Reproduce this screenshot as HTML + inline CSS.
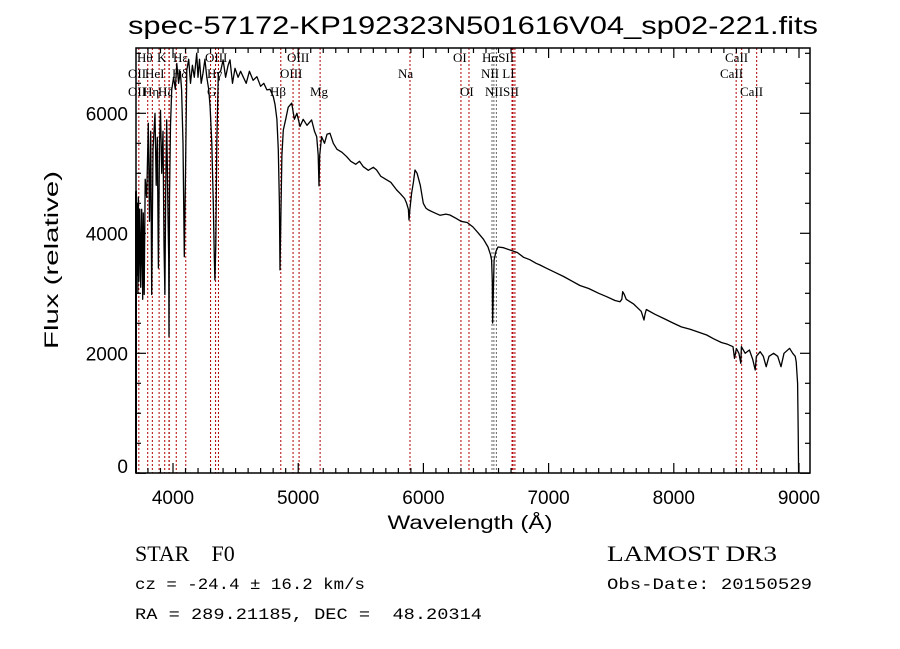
<!DOCTYPE html>
<html><head><meta charset="utf-8"><style>
html,body{margin:0;padding:0;background:#fff;}
svg{display:block;}
text{font-family:"Liberation Sans",sans-serif;fill:#000;}
.lab{font-family:"Liberation Serif",serif;font-size:13px;}
</style></head><body>
<svg id="chart" width="900" height="649" viewBox="0 0 900 649" xmlns="http://www.w3.org/2000/svg">
<text x="128" y="34" font-size="25" textLength="690" lengthAdjust="spacingAndGlyphs">spec-57172-KP192323N501616V04_sp02-221.fits</text>
<g id="lines"></g>
<g id="labels"></g>
<polyline id="spec" fill="none" stroke="#000" stroke-width="1.3" stroke-linejoin="round"></polyline>
<g id="axes"></g>
<text x="470" y="529" font-size="19" text-anchor="middle" textLength="165" lengthAdjust="spacingAndGlyphs">Wavelength (Å)</text>
<text transform="translate(58,260) rotate(-90)" font-size="19" text-anchor="middle" textLength="178" lengthAdjust="spacingAndGlyphs">Flux (relative)</text>
<text x="135" y="561" font-size="22" style="font-family:'Liberation Serif',serif" xml:space="preserve">STAR    F0</text>
<text x="607" y="561" font-size="22" style="font-family:'Liberation Serif',serif" textLength="170" lengthAdjust="spacingAndGlyphs">LAMOST DR3</text>
<text x="135" y="589" font-size="16" style="font-family:'Liberation Mono',monospace" textLength="230" lengthAdjust="spacingAndGlyphs">cz = -24.4 ± 16.2 km/s</text>
<text x="607" y="589" font-size="16" style="font-family:'Liberation Mono',monospace" textLength="205" lengthAdjust="spacingAndGlyphs">Obs-Date: 20150529</text>
<text x="135" y="619" font-size="16" style="font-family:'Liberation Mono',monospace" textLength="347" lengthAdjust="spacingAndGlyphs" xml:space="preserve">RA = 289.21185, DEC =  48.20314</text>
</svg>
<script>
const wave = [3706,3707,3708,3712,3716,3720,3724,3728,3735,3742,3750,3758,3763,3770,3778,3790,3803,3812,3822,3830,3840,3856,3866,3875,3883,3892,3900,3910,3920,3928,3935,3942,3950,3960,3966,3968,3972,3980,3990,4005,4018,4030,4045,4058,4069,4080,4090,4100,4110,4125,4140,4155,4170,4189,4200,4212,4225,4240,4255,4270,4285,4296,4310,4322,4330,4335,4342,4350,4362,4380,4400,4420,4440,4455,4475,4495,4520,4540,4560,4585,4610,4640,4670,4700,4725,4750,4775,4801,4815,4830,4841,4850,4855,4862,4870,4881,4900,4920,4948,4970,4990,5014,5040,5070,5107,5130,5148,5160,5166,5172,5187,5210,5230,5254,5280,5310,5350,5387,5420,5460,5490,5520,5560,5600,5626,5660,5700,5740,5787,5820,5850,5866,5880,5885,5892,5906,5920,5933,5950,5975,5999,6020,6039,6080,6133,6180,6212,6260,6300,6350,6396,6440,6480,6516,6535,6545,6550,6553,6558,6565,6580,6596,6640,6692,6750,6800,6850,6900,6931,6980,7050,7120,7195,7250,7320,7400,7464,7530,7570,7585,7592,7605,7620,7680,7740,7762,7770,7780,7850,7920,7994,8060,8130,8200,8263,8320,8380,8430,8473,8485,8500,8520,8535,8540,8570,8604,8630,8650,8660,8690,8715,8738,8760,8797,8830,8856,8880,8925,8950,8970,8978,8989,8994,8997];
const flux = [0,4600,4700,3300,4500,3000,4600,3200,4400,3100,4400,2900,4340,2980,4900,4600,5833,4200,5700,2980,5400,6000,4800,5600,3420,5500,6050,5000,5700,3800,2980,4700,5890,4300,3600,2280,4600,5800,6390,6600,6400,6830,6500,6700,6390,5500,3610,5000,6720,6900,6500,6800,6600,7000,6600,6900,6500,6670,6900,6600,6400,6110,5500,4500,3600,3222,3800,5500,6670,6700,6890,6600,6800,6890,6500,6750,6600,6700,6610,6500,6700,6550,6610,6450,6500,6390,6400,6277,6150,5900,5390,4500,3390,4300,5300,5720,5900,6100,6170,5900,6000,5780,5900,5800,5890,5700,5610,5300,4790,5300,5610,5500,5650,5667,5500,5400,5350,5277,5200,5150,5200,5110,5050,5100,5055,4950,4900,4850,4722,4650,4580,4500,4400,4222,4400,4667,4850,5055,5000,4800,4500,4420,4390,4350,4300,4320,4305,4250,4200,4180,4105,4000,3900,3772,3650,3555,3200,2505,3000,3555,3700,3772,3760,3722,3680,3600,3560,3500,3472,3420,3350,3280,3193,3130,3080,3000,2943,2880,2860,2900,3027,2980,2900,2820,2700,2555,2650,2730,2650,2580,2505,2440,2400,2350,2305,2240,2180,2150,2110,1915,2080,2000,1833,2110,2000,2055,1900,1722,1950,2027,1950,1777,1950,2000,1950,1777,2000,2083,2000,1950,1860,1500,700,0];
const lineWaves = [3727,3798,3835,3889,3934,3968,3970,4026,4102,4300,4340,4363,4861,4959,5007,5175,5893,6300,6364,6548,6563,6583,6708,6716,6731,8498,8542,8662];
const lineGray = [0,0,0,0,0,0,0,0,0,0,0,0,0,0,0,0,0,0,0,1,1,1,0,0,0,0,0,0];
const labelText = ["Hθ","K","Hε","OIII","OII","HeI","Hδ","Hγ","OII","Hη","Hζ","G","Hβ","Mg","OIII","OIII","Na","OI","HαSII","NII LI","OI","NIISII","CaII","CaII","CaII"];
const labelX = [137,157,173,205,128,145,172,207,128,143,158,207,270,310,287,280,398,453,482,481,460,485,725,720,740];
const labelRow = [0,0,0,0,1,1,1,1,2,2,2,2,2,2,0,1,1,0,0,1,2,2,0,1,2];
const xTicks = [4000,5000,6000,7000,8000,9000];
const yTicks = [0,2000,4000,6000];

const L=136,R=810,T=48,B=473;
const X = w => 173 + (w-4000)*0.1252;
const Y = v => 473.3 - v*0.06;
const NS='http://www.w3.org/2000/svg';
function mk(tag, parent){const e=document.createElementNS(NS,tag);parent.appendChild(e);return e;}

const gl=document.getElementById('lines');
lineWaves.forEach((w,i)=>{
  const l=mk('line',gl);
  
  
  l.setAttribute('x1',X(w));l.setAttribute('x2',X(w));l.setAttribute('y1',T);l.setAttribute('y2',B);
  l.setAttribute('stroke',lineGray[i]?'#666':'#b00000');l.setAttribute('stroke-width','1');l.setAttribute('stroke-dasharray','2,2');
});
const glab=document.getElementById('labels');
const rowY=[62,78,96];
labelText.forEach((t,i)=>{
  const e=mk('text',glab);
  
  
  e.setAttribute('class','lab');e.setAttribute('x',labelX[i]);e.setAttribute('y',rowY[labelRow[i]]);
  e.textContent=t;
});
document.getElementById('spec').setAttribute('points',wave.map((w,i)=>X(w).toFixed(1)+','+Y(flux[i]).toFixed(1)).join(' '));

const ga=document.getElementById('axes');
const fr=mk('rect',ga);


fr.setAttribute('x',L);fr.setAttribute('y',T);fr.setAttribute('width',R-L);fr.setAttribute('height',B-T);
fr.setAttribute('fill','none');fr.setAttribute('stroke','#000');fr.setAttribute('stroke-width','1.5');
function tick(x1,y1,x2,y2){const t=mk('line',ga);
  
  
  t.setAttribute('x1',x1);t.setAttribute('y1',y1);t.setAttribute('x2',x2);t.setAttribute('y2',y2);t.setAttribute('stroke','#000');t.setAttribute('stroke-width','1.2');}
for(let w=3800;w<=9000;w+=100){const x=X(w);if(x<L||x>R)continue;const len=(w%1000===0)?10:5;tick(x,B,x,B-len);tick(x,T,x,T+len);}
for(let v=0;v<=7000;v+=500){const y=Y(v);if(y<T)continue;const len=(v%2000===0)?10:5;tick(L,y,L+len,y);tick(R,y,R-len,y);}
xTicks.forEach(w=>{const e=mk('text',ga);
  
  
  e.setAttribute('x',X(w));e.setAttribute('y',504);e.setAttribute('font-size','19');e.setAttribute('text-anchor','middle');e.textContent=w;});
yTicks.forEach(v=>{const e=mk('text',ga);
  
  
  e.setAttribute('x',128);e.setAttribute('y',Math.min(Y(v)+7,473));e.setAttribute('font-size','19');e.setAttribute('text-anchor','end');e.textContent=v;});
const lb=mk('line',ga);


lb.setAttribute('x1',L);lb.setAttribute('x2',L);lb.setAttribute('y1',Y(0));lb.setAttribute('y2',Y(4700));lb.setAttribute('stroke','#000');lb.setAttribute('stroke-width','2');
</script>
</body></html>
